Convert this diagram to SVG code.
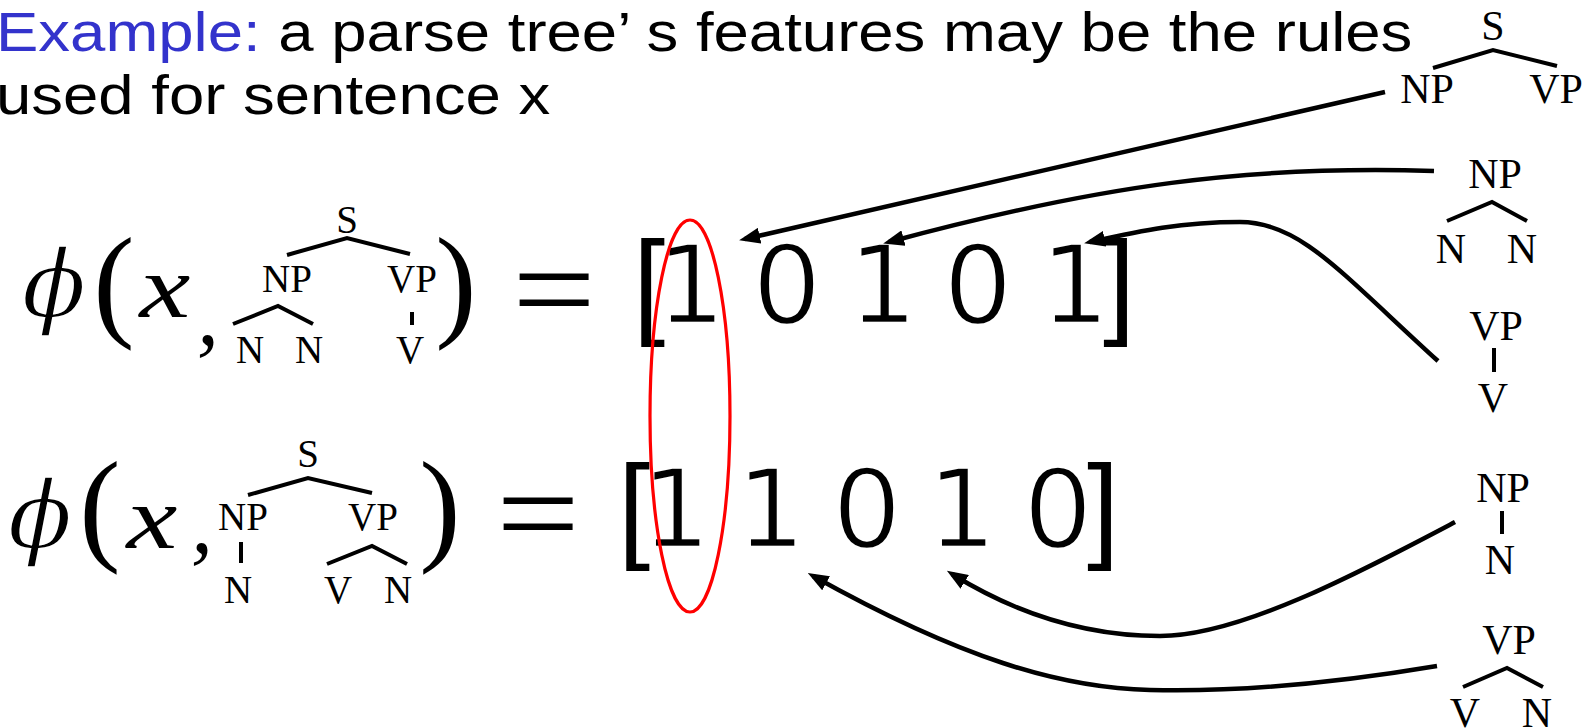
<svg xmlns="http://www.w3.org/2000/svg" width="1596" height="728" viewBox="0 0 1596 728">
<style>
.title{font-family:"Liberation Sans",Arial,sans-serif;font-size:56px;fill:#000}
.blue{fill:#3333CC}
.tr{font-family:"Liberation Serif","Times New Roman",serif;font-size:39px;text-anchor:middle;fill:#000}
.tr2{font-family:"Liberation Serif","Times New Roman",serif;font-size:42px;text-anchor:middle;fill:#000}
.br{fill:none;stroke:#000;stroke-width:4}
.phi{font-family:"DejaVu Serif",serif;font-style:italic;font-size:94px;text-anchor:middle;stroke:#fff;stroke-width:1.6}
.mx{font-family:"Liberation Serif","Times New Roman",serif;font-style:italic;font-size:88px;text-anchor:middle}
.par{font-family:"Liberation Serif","Times New Roman",serif;font-size:124px;text-anchor:middle}
.eq{font-family:"Liberation Serif","Times New Roman",serif;font-size:130px;text-anchor:middle}
.dig{font-family:"DejaVu Sans",sans-serif;font-size:109px;text-anchor:middle;stroke:#fff;stroke-width:2.4}
.bk{font-family:"Liberation Sans",Arial,sans-serif;font-size:116px}
.conn{fill:none;stroke:#000;stroke-width:4.5;marker-end:url(#ah)}
</style>
<defs>
<marker id="ah" markerUnits="userSpaceOnUse" markerWidth="21" markerHeight="16" viewBox="0 0 21 16" refX="15" refY="8" orient="auto"><path d="M0,0 L21,8 L0,16 z" fill="#000"/></marker>
</defs>
<rect width="1596" height="728" fill="#fff"/>
<g id="title">
<text class="title" transform="translate(-4,51) scale(1.134,1)"><tspan class="blue">Example:</tspan> a parse tree’ s features may be the rules</text>
<text class="title" transform="translate(-4,114) scale(1.134,1)">used for sentence x</text>
</g>
<g id="eq1">
<text class="phi" x="54" y="317">ϕ</text>
<text class="par" x="114" y="324">(</text>
<text class="mx" transform="translate(165,317) scale(1.3,1)">x</text>
<text class="mx" x="208" y="344">,</text>
<g id="tree1">
<text class="tr" x="347" y="233">S</text>
<text class="tr" x="287" y="292">NP</text>
<text class="tr" x="412" y="292">VP</text>
<text class="tr" x="250" y="363">N</text>
<text class="tr" x="309" y="363">N</text>
<text class="tr" x="410" y="363">V</text>
<path class="br" d="M287,255 L347,238 L410,254 M233,324 L278,306 L313,324 M412,312 L412,325"/>
</g>
<text class="par" x="456" y="324">)</text>
<text class="eq" transform="translate(554,333) scale(1.14,1)">=</text>
<text class="bk" x="633" y="323">[</text>
<text class="dig" x="691" y="323">1</text>
<text class="dig" x="787" y="323">0</text>
<text class="dig" x="883" y="323">1</text>
<text class="dig" x="978" y="323">0</text>
<text class="dig" x="1075" y="323">1</text>
<text class="bk" x="1103" y="323">]</text>
</g>
<g id="eq2">
<text class="phi" x="40" y="548">ϕ</text>
<text class="par" x="100" y="548">(</text>
<text class="mx" transform="translate(152,548) scale(1.3,1)">x</text>
<text class="mx" x="202" y="552">,</text>
<g id="tree2">
<text class="tr" x="308" y="467">S</text>
<text class="tr" x="243" y="530">NP</text>
<text class="tr" x="373" y="530">VP</text>
<text class="tr" x="238" y="603">N</text>
<text class="tr" x="338" y="603">V</text>
<text class="tr" x="398" y="603">N</text>
<path class="br" d="M248,495 L308,478 L372,493 M241,542 L241,563 M327,564 L372,546 L407,564"/>
</g>
<text class="par" x="440" y="548">)</text>
<text class="eq" transform="translate(538,557) scale(1.14,1)">=</text>
<text class="bk" x="618" y="547">[</text>
<text class="dig" x="676" y="547">1</text>
<text class="dig" x="771" y="547">1</text>
<text class="dig" x="867" y="547">0</text>
<text class="dig" x="962" y="547">1</text>
<text class="dig" x="1058" y="547">0</text>
<text class="bk" x="1087" y="547">]</text>
</g>
<g id="ruleA">
<text class="tr2" x="1493" y="40">S</text>
<text class="tr2" x="1427" y="103">NP</text>
<text class="tr2" x="1556" y="103">VP</text>
<path class="br" d="M1433,68 L1493,50 L1557,66"/>
</g>
<g id="ruleB">
<text class="tr2" x="1495" y="188">NP</text>
<text class="tr2" x="1451" y="263">N</text>
<text class="tr2" x="1522" y="263">N</text>
<path class="br" d="M1447,221 L1492,202 L1527,221"/>
</g>
<g id="ruleC">
<text class="tr2" x="1496" y="340">VP</text>
<text class="tr2" x="1493" y="412">V</text>
<path class="br" d="M1494,348 L1494,372"/>
</g>
<g id="ruleD">
<text class="tr2" x="1503" y="502">NP</text>
<text class="tr2" x="1500" y="574">N</text>
<path class="br" d="M1502,511 L1502,534"/>
</g>
<g id="ruleE">
<text class="tr2" x="1509" y="654">VP</text>
<text class="tr2" x="1465" y="727">V</text>
<text class="tr2" x="1537" y="727">N</text>
<path class="br" d="M1463,687 L1507,668 L1543,687"/>
</g>
<g id="connectors">
<path class="conn" d="M1385,92 L745,239"/>
<path class="conn" d="M1434,171 C1250,165 1100,185 889,242"/>
<path class="conn" d="M1438,361 C1340,272 1300,222 1240,222 C1180,222 1140,231 1090,242"/>
<path class="conn" d="M1437,666 C1330,684 1230,692 1150,690 C1060,688 960,658 813,576"/>
<path class="conn" d="M1455,522 C1360,572 1240,636 1160,636 C1080,636 1010,610 952,574"/>
</g>
<ellipse id="highlight" cx="690" cy="416" rx="40" ry="196" fill="none" stroke="#FF0000" stroke-width="3.2"/>
</svg>
